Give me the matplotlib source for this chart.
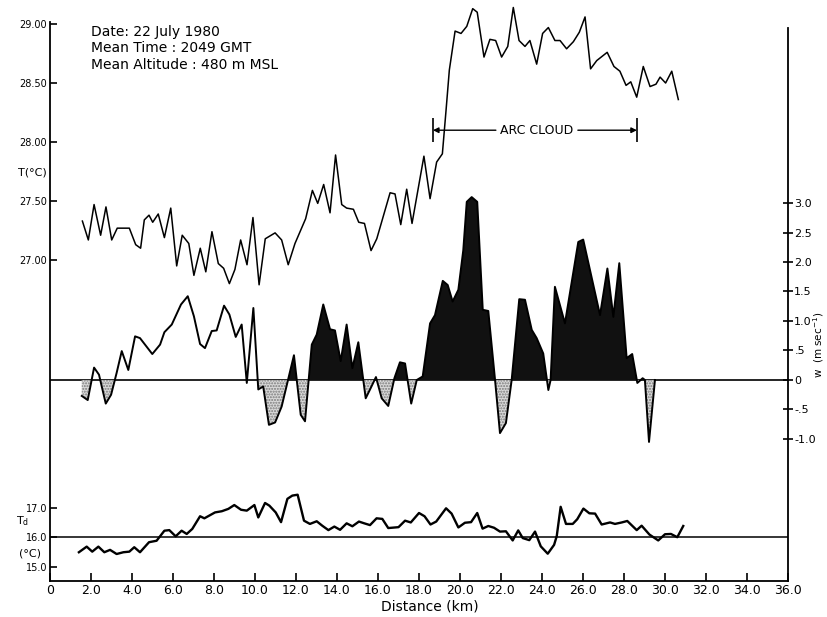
import matplotlib
matplotlib.use("Agg")
import matplotlib.pyplot as plt
import numpy as np

plt.rcParams['font.family'] = ['DejaVu Sans']

# ---- air temperature T (deg C) along the flight track ----
dist_T = [1.58, 1.87, 2.15, 2.47, 2.73, 3.01, 3.28, 3.87, 4.18, 4.42, 4.60, 4.83,
          5.01, 5.28, 5.58, 5.89, 6.18, 6.45, 6.77, 7.02, 7.33, 7.60, 7.90, 8.21,
          8.47, 8.75, 9.02, 9.30, 9.61, 9.90, 10.20, 10.50, 10.98, 11.30, 11.62,
          11.95, 12.47, 12.80, 13.06, 13.35, 13.66, 13.93, 14.23, 14.47, 14.80,
          15.06, 15.34, 15.66, 15.94, 16.59, 16.83, 17.11, 17.40, 17.66, 18.24,
          18.54, 18.86, 19.14, 19.32, 19.48, 19.76, 20.05, 20.33, 20.62, 20.84,
          21.17, 21.46, 21.74, 22.03, 22.33, 22.60, 22.88, 23.17, 23.41, 23.74,
          24.03, 24.31, 24.63, 24.88, 25.20, 25.53, 25.82, 26.10, 26.37, 26.67,
          27.18, 27.51, 27.80, 28.10, 28.33, 28.62, 28.94, 29.27, 29.56, 29.76,
          30.03, 30.33, 30.65]
temp_T = [27.33, 27.17, 27.47, 27.21, 27.45, 27.17, 27.27, 27.27, 27.13, 27.10,
          27.34, 27.38, 27.32, 27.39, 27.19, 27.44, 26.95, 27.21, 27.14, 26.87,
          27.10, 26.90, 27.24, 26.97, 26.93, 26.80, 26.92, 27.17, 26.96, 27.36,
          26.79, 27.18, 27.23, 27.17, 26.96, 27.14, 27.35, 27.59, 27.48, 27.64,
          27.40, 27.89, 27.47, 27.44, 27.43, 27.32, 27.31, 27.08, 27.18, 27.57,
          27.56, 27.30, 27.60, 27.31, 27.88, 27.52, 27.83, 27.90, 28.27, 28.61,
          28.94, 28.92, 28.98, 29.13, 29.10, 28.72, 28.87, 28.86, 28.72, 28.81,
          29.14, 28.86, 28.81, 28.86, 28.66, 28.92, 28.97, 28.86, 28.86, 28.79,
          28.85, 28.93, 29.06, 28.62, 28.69, 28.76, 28.64, 28.60, 28.48, 28.51,
          28.38, 28.64, 28.47, 28.49, 28.55, 28.50, 28.60, 28.36]

# ---- vertical velocity w (m/s) ----
dist_w = [1.55, 1.84, 2.15, 2.39, 2.72, 2.98, 3.25, 3.50, 3.82, 4.15, 4.39, 4.99,
          5.37, 5.58, 5.94, 6.39, 6.72, 7.02, 7.32, 7.56, 7.89, 8.13, 8.49, 8.75,
          9.06, 9.35, 9.60, 9.92, 10.16, 10.40, 10.68, 10.98, 11.30, 11.90, 12.23,
          12.44, 12.77, 13.01, 13.33, 13.66, 13.90, 14.18, 14.47, 14.75, 15.04,
          15.40, 15.64, 15.90, 16.18, 16.50, 16.80, 17.07, 17.32, 17.62, 17.89,
          18.18, 18.54, 18.78, 19.16, 19.40, 19.64, 19.92, 20.16, 20.33, 20.57,
          20.84, 21.11, 21.38, 21.71, 21.95, 22.24, 22.52, 22.89, 23.17, 23.50,
          23.74, 24.06, 24.31, 24.42, 24.63, 25.12, 25.77, 26.01, 26.83, 27.19,
          27.48, 27.77, 28.13, 28.40, 28.65, 28.91, 29.02, 29.22, 29.51]
w_vals = [-0.27, -0.34, 0.21, 0.09, -0.40, -0.25, 0.12, 0.49, 0.17, 0.74, 0.71,
          0.44, 0.60, 0.81, 0.94, 1.28, 1.42, 1.08, 0.61, 0.54, 0.83, 0.84, 1.26,
          1.11, 0.73, 0.94, -0.05, 1.22, -0.16, -0.11, -0.76, -0.72, -0.45, 0.42,
          -0.59, -0.70, 0.60, 0.77, 1.28, 0.86, 0.84, 0.32, 0.94, 0.20, 0.64,
          -0.31, -0.14, 0.05, -0.31, -0.44, 0.03, 0.30, 0.28, -0.40, 0.00, 0.06,
          0.96, 1.10, 1.68, 1.61, 1.33, 1.53, 2.20, 3.02, 3.10, 3.02, 1.19, 1.17,
          0.00, -0.90, -0.73, 0.00, 1.37, 1.36, 0.85, 0.71, 0.45, -0.17, 0.00,
          1.58, 0.96, 2.34, 2.38, 1.10, 1.89, 1.07, 1.98, 0.37, 0.44, -0.05, 0.03,
          0.00, -1.05, 0.00]

# ---- dew point Td (deg C) ----
dist_Td = [1.41, 1.79, 2.06, 2.36, 2.65, 2.93, 3.25, 3.58, 3.87, 4.11, 4.39, 4.83,
           5.20, 5.58, 5.82, 6.13, 6.42, 6.67, 6.94, 7.32, 7.53, 8.05, 8.38, 8.70,
           8.99, 9.32, 9.60, 9.97, 10.16, 10.49, 10.70, 11.01, 11.27, 11.58, 11.82,
           12.08, 12.39, 12.68, 13.01, 13.28, 13.58, 13.87, 14.15, 14.47, 14.75,
           15.07, 15.33, 15.61, 15.93, 16.21, 16.50, 17.00, 17.32, 17.60, 18.00,
           18.27, 18.56, 18.84, 19.32, 19.59, 19.92, 20.24, 20.54, 20.84, 21.10,
           21.38, 21.66, 21.95, 22.24, 22.57, 22.84, 23.06, 23.38, 23.66, 23.94,
           24.28, 24.59, 24.72, 24.91, 25.17, 25.50, 25.72, 26.02, 26.31, 26.59,
           26.91, 27.32, 27.56, 27.89, 28.16, 28.62, 28.86, 29.24, 29.67, 30.00,
           30.29, 30.60, 30.89]
dewpt = [15.50, 15.69, 15.52, 15.69, 15.50, 15.58, 15.44, 15.50, 15.52, 15.67,
         15.50, 15.84, 15.89, 16.23, 16.25, 16.04, 16.23, 16.12, 16.29, 16.72,
         16.65, 16.85, 16.89, 16.97, 17.10, 16.94, 16.91, 17.10, 16.68, 17.17,
         17.08, 16.85, 16.52, 17.31, 17.42, 17.45, 16.57, 16.46, 16.55, 16.40,
         16.25, 16.37, 16.26, 16.48, 16.38, 16.54, 16.48, 16.42, 16.65, 16.63,
         16.32, 16.35, 16.57, 16.51, 16.83, 16.72, 16.44, 16.54, 16.99, 16.81,
         16.34, 16.50, 16.52, 16.83, 16.30, 16.39, 16.33, 16.20, 16.21, 15.90,
         16.24, 15.98, 15.91, 16.20, 15.70, 15.45, 15.75, 16.05, 17.04, 16.46,
         16.46, 16.62, 16.98, 16.82, 16.81, 16.44, 16.51, 16.46, 16.51, 16.56,
         16.25, 16.40, 16.10, 15.90, 16.11, 16.12, 16.01, 16.39]

x_ticks = np.arange(0, 37, 2)
x_labels = ["0"] + ["%.1f" % v for v in x_ticks[1:]]
T_ticks = [27.0, 27.5, 28.0, 28.5, 29.0]
T_labels = ["27.00", "27.50", "28.00", "28.50", "29.00"]
Td_ticks = [15.0, 16.0, 17.0]
Td_labels = ["15.0", "16.0", "17.0"]
w_ticks = [3.0, 2.5, 2.0, 1.5, 1.0, 0.5, 0.0, -0.5, -1.0]
w_labels = ["3.0", "2.5", "2.0", "1.5", "1.0", ".5", "0", "-.5", "-1.0"]

W, H = 827, 617
fig = plt.figure(figsize=(W / 100, H / 100), dpi=100)
fig.patch.set_facecolor("white")


def fx(px):
    return px / W


def fy(py):
    return 1 - py / H


ax = fig.add_axes([fx(50), fy(581), fx(788) - fx(50), fy(22) - fy(581)])
ax.set_facecolor("none")
ax.set_xlim(0, 36)
ax.set_ylim(24.280, 29.017)

ax_w = ax.twinx()
ax_w.set_ylim(-3.407, 6.068)
ax_Td = ax.twinx()
ax_Td.set_ylim(14.525, 33.475)

for a in (ax, ax_w, ax_Td):
    for s in a.spines.values():
        s.set_visible(False)
ax.spines['left'].set_visible(True)
ax.spines['bottom'].set_visible(True)
ax_w.spines['right'].set_visible(True)
ax_w.spines['right'].set_bounds(-3.407, 5.97)
for s in (ax.spines['left'], ax.spines['bottom'], ax_w.spines['right']):
    s.set_linewidth(1.3)

# x axis
ax.set_xticks(x_ticks)
ax.set_xticklabels(x_labels, fontsize=9)
ax.tick_params(axis='x', direction='in', length=6, width=1.2, pad=2)
ax.set_xlabel("Distance (km)", fontsize=10)
ax.xaxis.set_label_coords((430 - 50) / 738, -(607 - 581) / 559)
ax.xaxis.label.set_va("center")

# T axis (left, upper)
ax.set_yticks(T_ticks)
ax.set_yticklabels(T_labels, fontsize=7)
ax.tick_params(axis='y', direction='in', length=5, width=1.2, pad=2)

# Td axis (left, lower)
ax_Td.yaxis.tick_left()
ax_Td.set_yticks(Td_ticks)
ax_Td.set_yticklabels(Td_labels, fontsize=7)
ax_Td.tick_params(axis='y', direction='in', length=5, width=1.2, pad=2)

# w axis (right)
ax_w.set_yticks(w_ticks)
ax_w.set_yticklabels(w_labels, fontsize=8)
ax_w.tick_params(axis='y', direction='inout', length=7, width=1.2, pad=1)

# temperature trace (its warmest readings rise above the top of the frame)
ax.plot(dist_T, temp_T, color="black", lw=1.1, clip_on=False)

# vertical velocity trace with shaded up/down drafts
xw = np.array(dist_w)
ww = np.array(w_vals)
ax_w.axhline(0, color="black", lw=1.2, zorder=1)
ax_w.fill_between(xw, ww, 0, where=ww < 0, interpolate=True,
                  facecolor="#d9d9d9", edgecolor="#7a7a7a", hatch="......",
                  linewidth=0, zorder=2)
ax_w.fill_between(xw, ww, 0, where=(ww > 0) & (xw > 11.0), interpolate=True,
                  facecolor="#111111", edgecolor="#111111", linewidth=0, zorder=2)
ax_w.plot(xw, ww, color="black", lw=1.4, zorder=3)

# dew point trace
ax_Td.axhline(16.0, color="black", lw=1.1)
ax_Td.plot(dist_Td, dewpt, color="black", lw=1.7)

# arc cloud extent
ax.vlines([18.68, 28.63], 28.0, 28.2, color="black", lw=1.2)
ax.annotate("", xy=(18.68, 28.1), xytext=(21.75, 28.1),
            arrowprops=dict(arrowstyle="-|>", color="black", lw=1.0,
                            shrinkA=0, shrinkB=0, mutation_scale=8))
ax.annotate("", xy=(28.63, 28.1), xytext=(25.75, 28.1),
            arrowprops=dict(arrowstyle="-|>", color="black", lw=1.0,
                            shrinkA=0, shrinkB=0, mutation_scale=8))
ax.text(23.75, 28.1, "ARC CLOUD", ha="center", va="center", fontsize=9)

# flight information
fig.text(fx(91), fy(32), "Date: 22 July 1980", fontsize=10, va="center")
fig.text(fx(91), fy(48), "Mean Time : 2049 GMT", fontsize=10, va="center")
fig.text(fx(91), fy(65), "Mean Altitude : 480 m MSL", fontsize=10, va="center")

# axis titles
fig.text(fx(32), fy(172), "T(°C)", fontsize=8, ha="center", va="center")
fig.text(fx(23), fy(521), "T$_\\mathregular{d}$", fontsize=8, ha="center", va="center")
fig.text(fx(30), fy(553), "(°C)", fontsize=8, ha="center", va="center")
fig.text(fx(819), fy(345), "w  (m sec$^{-1}$)", fontsize=7.5, ha="center",
         va="center", rotation=90)

fig.savefig("out.png", dpi=100, facecolor="white")
